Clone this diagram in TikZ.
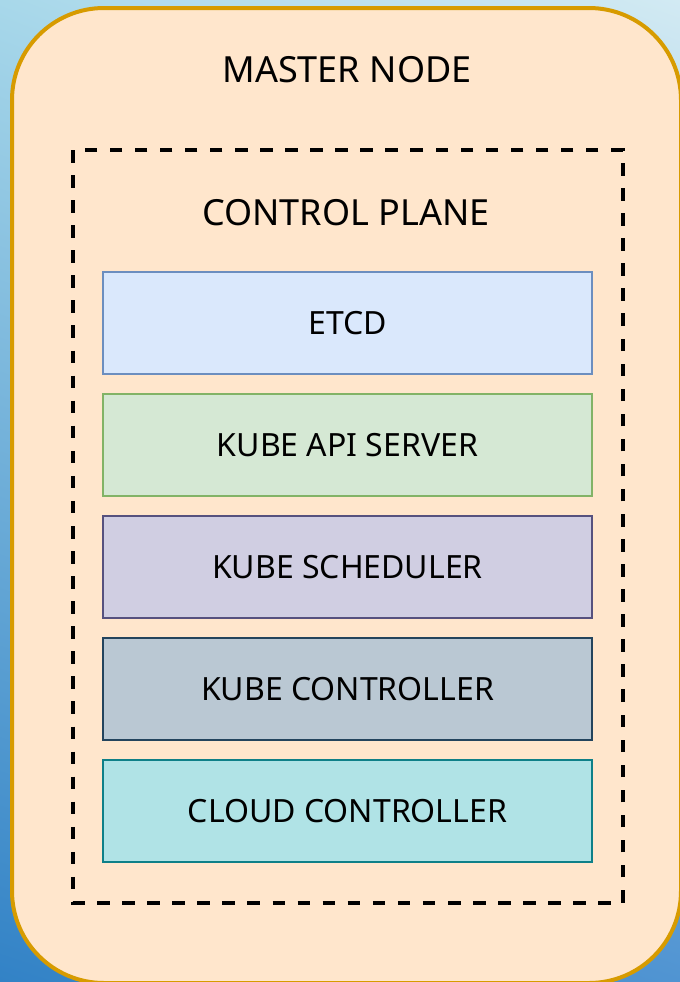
\documentclass[tikz,border=0pt]{standalone}
\usepackage{fontspec}
\setmainfont{Noto Sans}
\usetikzlibrary{positioning, shadings}
\definecolor{skytop}{HTML}{A8D8EA}
\definecolor{skytopr}{HTML}{D2EAF3}
\definecolor{skybot}{HTML}{3282C6}
\definecolor{skybotr}{HTML}{5094D2}
\definecolor{mfill}{HTML}{FFE6CC}
\definecolor{mdraw}{HTML}{D79B00}
\definecolor{etcdfill}{HTML}{DAE8FC}
\definecolor{etcddraw}{HTML}{6C8EBF}
\definecolor{apifill}{HTML}{D5E8D4}
\definecolor{apidraw}{HTML}{82B366}
\definecolor{schedfill}{HTML}{D0CEE2}
\definecolor{scheddraw}{HTML}{56517E}
\definecolor{ctrlfill}{HTML}{BAC8D3}
\definecolor{ctrldraw}{HTML}{23445D}
\definecolor{cloudfill}{HTML}{B0E3E6}
\definecolor{clouddraw}{HTML}{0E8088}
\tikzset{
  master/.style = {draw=mdraw, fill=mfill, line width=3pt, rounded corners=69pt},
  plane/.style  = {draw=black, line width=2.5pt, dash pattern=on 9.4pt off 9.4pt},
  title/.style  = {font=\fontsize{27}{32}\selectfont, inner sep=0pt},
  comp/.style   = {line width=1.7pt, minimum width=366.75pt, minimum height=76.5pt,
                   inner sep=0pt, font=\fontsize{24}{28}\selectfont},
}

\begin{document}
\begin{tikzpicture}[x=0.75pt, y=-0.75pt]
  \useasboundingbox (0,0) rectangle (680,982);
  \shade[upper left=skytop, upper right=skytopr, lower left=skybot, lower right=skybotr]
    (0,0) rectangle (680,982);

  % master node frame and control plane frame
  \draw[master] (12,8) rectangle (681,983);
  \node[title] (mastertitle) at (347,70) {MASTER NODE};
  \draw[plane] (73,150) rectangle (623,903);
  \node[title] (planetitle) at (346,213) {CONTROL PLANE};

  % components
  \node[comp, draw=etcddraw, fill=etcdfill]   (etcd)  at (347.5,323) {ETCD};
  \node[comp, draw=apidraw, fill=apifill]     (api)   at (347.5,445) {KUBE API SERVER};
  \node[comp, draw=scheddraw, fill=schedfill] (sched) at (347.5,567) {KUBE SCHEDULER};
  \node[comp, draw=ctrldraw, fill=ctrlfill]   (ctrl)  at (347.5,689) {KUBE CONTROLLER};
  \node[comp, draw=clouddraw, fill=cloudfill] (cloud) at (347.5,811) {CLOUD CONTROLLER};
\end{tikzpicture}
\end{document}
